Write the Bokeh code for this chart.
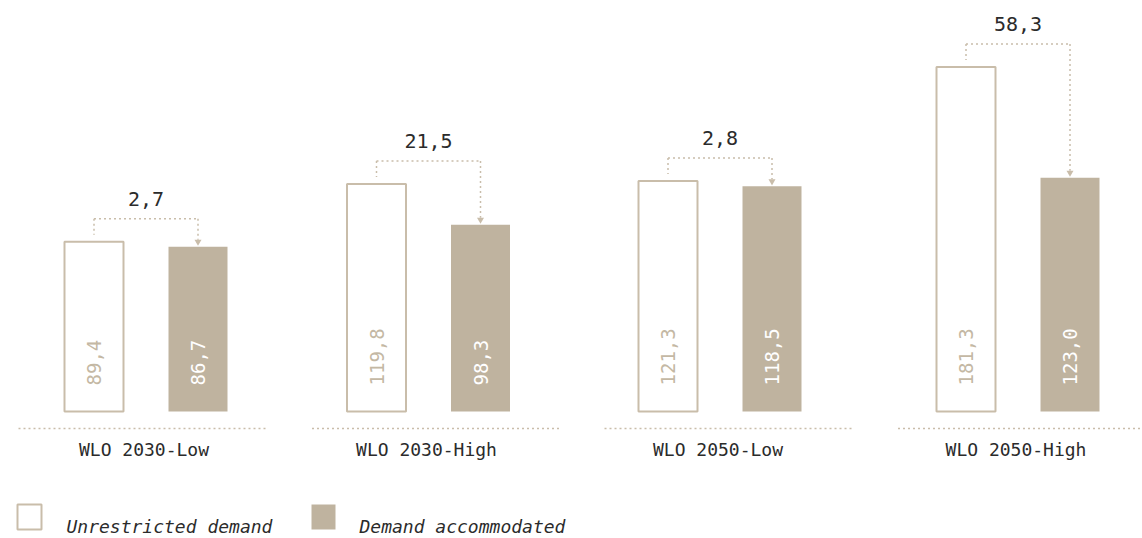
import math
from bokeh.plotting import figure
from bokeh.models import Range1d, ColumnDataSource
from bokeh.core.properties import value
from bokeh.embed import file_html
from bokeh.resources import INLINE

categories = ["WLO 2030-Low", "WLO 2030-High", "WLO 2050-Low", "WLO 2050-High"]
unrestricted = [89.4, 119.8, 121.3, 181.3]
accommodated = [86.7, 98.3, 118.5, 123.0]
series_names = ["Unrestricted demand", "Demand accommodated"]

W, H = 1142, 538
BASE_PX = 411.0   # baseline, pixels from top
S = 1.9           # pixels per unit

def py(px_from_top):
    return (BASE_PX - px_from_top) / S

def dpx(px):
    return px / S

FILL = "#bfb39f"
EDGE = "#c9bdaa"
TXT = "#2b2b2b"
MONO = "DejaVu Sans Mono"
DASH = "2 3"

p = figure(width=W, height=H, output_backend="svg", toolbar_location=None,
           x_range=Range1d(0, W), y_range=Range1d(py(H), py(0)),
           min_border=0, outline_line_color=None, background_fill_color="white")
p.axis.visible = False
p.grid.visible = False

# layout: group centres (pixels) and separator centres
centers = [145, 427.5, 719, 1017]
sep_centers = [141.5, 435, 727.5, 1021]
xu = [c - 51.5 for c in centers]
xa = [c + 52.5 for c in centers]
bw = 59

def fmt(v):
    return f"{v:.1f}".replace(".", ",")

src = ColumnDataSource(dict(xu=xu, xa=xa, u=unrestricted, a=accommodated,
                            ul=[fmt(v) for v in unrestricted],
                            al=[fmt(v) for v in accommodated],
                            cat=categories, c=[c - 1.5 for c in centers]))

p.vbar(x="xu", top="u", bottom=0, width=bw, source=src, fill_color="white",
       line_color=EDGE, line_width=2)
p.vbar(x="xa", top="a", bottom=0, width=bw, source=src, fill_color=FILL,
       line_color=None)

ty = dpx(26)
p.text(x="xu", y=ty, text="ul", source=src, angle=math.pi / 2, text_align="left",
       text_baseline="middle", text_color="#c4b8a4", text_font=value(MONO),
       text_font_size="19px")
p.text(x="xa", y=ty, text="al", source=src, angle=math.pi / 2, text_align="left",
       text_baseline="middle", text_color="white", text_font=value(MONO),
       text_font_size="19px")

# separators and category labels
p.segment(x0=[c - 123.5 for c in sep_centers], x1=[c + 123.5 for c in sep_centers],
          y0=[py(428)] * 4, y1=[py(428)] * 4, line_color=EDGE, line_width=1.5,
          line_dash=DASH)
p.text(x="c", y=py(449), text="cat", source=src, text_align="center",
       text_baseline="middle", text_color=TXT, text_font=value(MONO),
       text_font_size="18px")

# difference brackets
diffs = [u - a for u, a in zip(unrestricted, accommodated)]
by = [max(u, a) + dpx(23) for u, a in zip(unrestricted, accommodated)]
p.segment(x0=xu, x1=xa, y0=by, y1=by, line_color=EDGE, line_width=1.5,
          line_dash=DASH)
p.segment(x0=xu, x1=xu, y0=by, y1=[u + dpx(7) for u in unrestricted],
          line_color=EDGE, line_width=1.5, line_dash=DASH)
p.segment(x0=xa, x1=xa, y0=by, y1=[a + dpx(7) for a in accommodated],
          line_color=EDGE, line_width=1.5, line_dash=DASH)
p.scatter(x=xa, y=[a + dpx(5) for a in accommodated], marker="inverted_triangle",
          size=7, fill_color=EDGE, line_color=None)
p.text(x=[(x0 + x1) / 2 for x0, x1 in zip(xu, xa)], y=[b + dpx(20) for b in by],
       text=[fmt(d) for d in diffs], text_align="center", text_baseline="middle",
       text_color=TXT, text_font=value(MONO), text_font_size="20px")

# legend
p.quad(left=[17, 311], right=[41, 335], top=[py(504), py(504)],
       bottom=[py(529), py(529)], fill_color=["white", FILL],
       line_color=[EDGE, None], line_width=2)
p.text(x=[66, 359], y=[py(526), py(526)], text=series_names, text_align="left",
       text_baseline="middle", text_color=TXT, text_font=value(MONO),
       text_font_style="italic", text_font_size="18px")

open("out.html", "w").write(file_html(p, INLINE))
